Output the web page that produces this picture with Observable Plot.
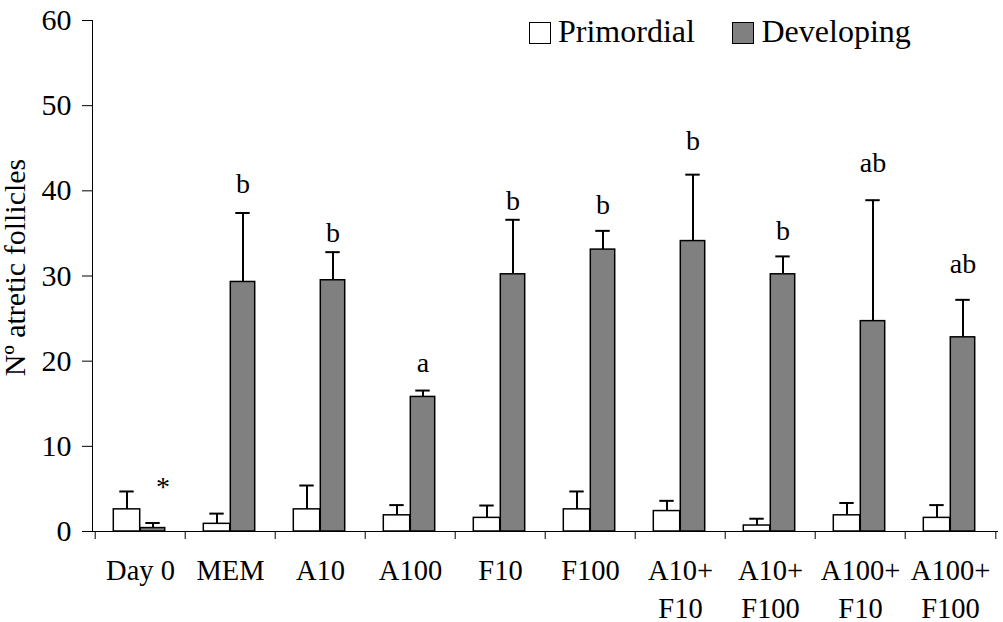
<!DOCTYPE html>
<html>
<head>
<meta charset="utf-8">
<script src="https://cdn.jsdelivr.net/npm/d3@7"></script>
<script src="https://cdn.jsdelivr.net/npm/@observablehq/plot@0.6"></script>
<style>
  body { margin: 0; background: #fff; }
  #wrap { position: relative; width: 1003px; height: 622px; font-family: "Liberation Serif", "Times New Roman", serif; color: #000; }
  #wrap svg, #wrap svg text { font-family: "Liberation Serif", "Times New Roman", serif !important; }
  .sw { position: absolute; width: 22px; height: 22px; box-sizing: border-box; border: 1.5px solid #000; }
  .lt { position: absolute; font-size: 32px; line-height: 32px; white-space: nowrap; }
</style>
</head>
<body>
<div id="wrap"></div>
<script>
// ---- data ----
const categories = ["Day 0", "MEM", "A10", "A100", "F10", "F100", "A10+\nF10", "A10+\nF100", "A100+\nF10", "A100+\nF100"];
const series = ["Primordial", "Developing"];
const primordial   = [2.6, 0.9, 2.6, 1.9, 1.6, 2.6, 2.4, 0.7, 1.9, 1.6];
const primordialSE = [2.1, 1.2, 2.8, 1.2, 1.45, 2.1, 1.2, 0.8, 1.45, 1.5];
const developing   = [0.4, 29.3, 29.5, 15.8, 30.2, 33.1, 34.1, 30.2, 24.7, 22.8];
const developingSE = [0.6, 8.1, 3.3, 0.75, 6.4, 2.2, 7.8, 2.1, 14.2, 4.4];
const letters      = ["*", "b", "b", "a", "b", "b", "b", "b", "ab", "ab"];
const letterY      = [4.2, 39.7, 34.0, 18.7, 37.7, 37.3, 44.8, 34.25, 42.2, 30.3];
const yTicks = [0, 10, 20, 30, 40, 50, 60];
const yLabel = "Nº atretic follicles";

const rows = categories.map((cat, i) => ({
  cat,
  primordial: primordial[i], primordialSE: primordialSE[i],
  developing: developing[i], developingSE: developingSE[i],
  letter: letters[i], letterY: letterY[i]
}));

// ---- layout ----
const W = 1003, H = 622, ML = 92, MR = 5, MT = 20, MB = 91;
const bw = (W - ML - MR) / categories.length;
const half = bw / 2;
const pxPerUnit = (H - MT - MB) / 60;
const tickLen = 8 / pxPerUnit;
const fills = ["#ffffff", "#808080"];
const capHalf = 7.5, pOff = 13.5, dOff = 12.5;
const serif = "Liberation Serif, 'Times New Roman', serif";

const chart = Plot.plot({
  width: W, height: H,
  marginLeft: ML, marginRight: MR, marginTop: MT, marginBottom: MB,
  style: { fontFamily: serif, fontSize: "30px", color: "#000", background: "#fff" },
  x: { domain: categories, padding: 0, axis: null },
  y: { domain: [0, 60], ticks: yTicks, tickSize: 10, tickPadding: 11, line: true, label: null, tickFormat: () => "" },
  marks: [
    Plot.ruleY([0], { stroke: "#000" }),
    Plot.ruleX(categories, { x: d => d, y1: 0, y2: -tickLen, dx: -half, stroke: "#000" }),
    Plot.ruleX([categories[categories.length - 1]], { x: d => d, y1: 0, y2: -tickLen, dx: half, stroke: "#000" }),
    Plot.text(yTicks, { y: d => d, text: d => String(d), frameAnchor: "left", textAnchor: "end", dx: -21, fontSize: 30, fontFamily: serif, fill: "#000" }),
    Plot.barY(rows, { x: "cat", y: "primordial", fill: fills[0], stroke: "#000", strokeWidth: 1.5, insetLeft: half - 27, insetRight: half }),
    Plot.barY(rows, { x: "cat", y: "developing", fill: fills[1], stroke: "#000", strokeWidth: 1.5, insetLeft: half, insetRight: half - 25 }),
    Plot.ruleX(rows, { x: "cat", y1: "primordial", y2: d => d.primordial + d.primordialSE, dx: -pOff, stroke: "#000", strokeWidth: 2 }),
    Plot.tickY(rows, { x: "cat", y: d => d.primordial + d.primordialSE, insetLeft: half - pOff - capHalf, insetRight: half + pOff - capHalf, stroke: "#000", strokeWidth: 2 }),
    Plot.ruleX(rows, { x: "cat", y1: "developing", y2: d => d.developing + d.developingSE, dx: dOff, stroke: "#000", strokeWidth: 2 }),
    Plot.tickY(rows, { x: "cat", y: d => d.developing + d.developingSE, insetLeft: half + dOff - capHalf, insetRight: half - dOff - capHalf, stroke: "#000", strokeWidth: 2 }),
    Plot.text(rows.filter(d => d.letter !== "*"), { x: "cat", y: "letterY", text: "letter", dx: dOff, lineAnchor: "bottom", fontSize: 28, fontFamily: serif, fill: "#000" }),
    Plot.text(rows.filter(d => d.letter === "*"), { x: "cat", y: "letterY", text: "letter", dx: 22.5, lineAnchor: "bottom", fontSize: 28, fontFamily: serif, fill: "#000" }),
    Plot.text(categories, { x: d => d, text: d => d, frameAnchor: "bottom", lineAnchor: "top", dy: 22, lineHeight: 1.32, fontSize: 28.5, fontFamily: serif, fill: "#000" }),
    Plot.text([yLabel], { text: d => d, frameAnchor: "left", rotate: -90, textAnchor: "middle", dx: -77, dy: -8.5, fontSize: 30, fontFamily: serif, fill: "#000" })
  ]
});

const wrap = document.getElementById("wrap");
wrap.appendChild(chart);

// ---- legend (HTML overlay, top right) ----
const legendPos = [{ sx: 528.5, tx: 558 }, { sx: 731.5, tx: 761.5 }];
series.forEach((name, i) => {
  const sw = document.createElement("div");
  sw.className = "sw";
  sw.style.left = legendPos[i].sx + "px";
  sw.style.top = "21.5px";
  sw.style.background = fills[i];
  wrap.appendChild(sw);
  const t = document.createElement("div");
  t.className = "lt";
  t.style.left = legendPos[i].tx + "px";
  t.style.top = "15px";
  t.textContent = name;
  wrap.appendChild(t);
});
</script>
</body>
</html>
